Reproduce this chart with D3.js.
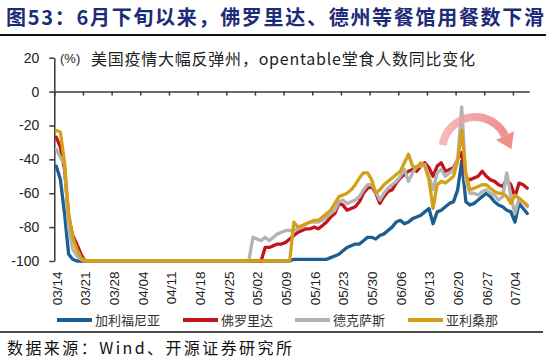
<!DOCTYPE html>
<html><head><meta charset="utf-8">
<script src="https://cdn.jsdelivr.net/npm/d3@7"></script>
<style>body{margin:0;background:#fff}svg{display:block}</style>
</head><body>
<svg id="c" width="550" height="363"></svg>
<script>
// ---------- data ----------
const tickLabels = ["03/14","03/21","03/28","04/04","04/11","04/18","04/25","05/02","05/09","05/16","05/23","05/30","06/06","06/13","06/20","06/27","07/04"];
const dayCount = 116; // 03/14 .. 07/07
const yTicks = [20, 0, -20, -40, -60, -80, -100];
const seriesNames = ["加利福尼亚", "佛罗里达", "德克萨斯", "亚利桑那"];

const california = [
 -44,-52,-72,-96,-99,
 -100,-100,-100,-100,-100,-100,-100,-100,-100,-100,
 -100,-100,-100,-100,-100,-100,-100,-100,-100,-100,
 -100,-100,-100,-100,-100,-100,-100,-100,-100,-100,
 -100,-100,-100,-100,-100,-100,-100,-100,-100,-100,
 -100,-100,-100,-100,-100,-100,-100,-100,-100,-100,
 -100,-100,-100,
 -99,-99,-99,-99,-99,-99,-99,-99,-99,
 -98,-97,-96,-94,-92,-91,-90,-90,-88,-86,
 -86,-87,-85,-84,-82,-80,-77,-76,-78,-77,
 -75,-74,-73,-71,-69,-78,-71,-70,-68,-66,
 -65,-58,-41,-65,-67,-66,-64,-62,-60,-62,
 -65,-67,-68,-70,-71,-77,-66,-69,-72
];
const florida = [
 -27,-33,-46,-74,-85,-90,-96,
 -100,-100,-100,-100,-100,-100,-100,-100,-100,-100,
 -100,-100,-100,-100,-100,-100,-100,-100,-100,-100,
 -100,-100,-100,-100,-100,-100,-100,-100,-100,-100,
 -100,-100,-100,-100,-100,-100,-100,-100,-100,-100,
 -100,-100,-100,-100,
 -92,-92,-91,-90,-90,-89,-87,-85,-83,-82,
 -81,-81,-80,-81,-79,-77,-74,-72,-66,-67,
 -70,-69,-68,-65,-60,-57,-56,-60,-66,-62,
 -59,-58,-54,-51,-49,-47,-46,-47,-44,-42,
 -45,-50,-44,-42,-47,-46,-45,-40,-36,-51,
 -52,-51,-50,-47,-50,-52,-53,-55,-56,-52,
 -55,-62,-54,-55,-57
];
const texas = [
 -34,-39,-43,-80,-93,-97,-99,
 -100,-100,-100,-100,-100,-100,-100,-100,-100,-100,
 -100,-100,-100,-100,-100,-100,-100,-100,-100,-100,
 -100,-100,-100,-100,-100,-100,-100,-100,-100,-100,
 -100,-100,-100,-100,-100,-100,-100,-100,-100,-100,
 -100,
 -86,-87,-88,-86,-88,-86,-84,-83,-82,-82,
 -82,-81,-80,-78,-77,-77,-77,-76,-74,-72,
 -70,-65,-64,-66,-65,-64,-62,-58,-55,-55,
 -59,-64,-60,-57,-55,-53,-50,-46,-53,-48,
 -44,-44,-43,-50,-58,-48,-46,-50,-48,-46,
 -40,-9,-52,-60,-60,-61,-59,-58,-60,-61,
 -64,-62,-48,-62,-72,-63,-65,-68
];
const arizona = [
 -23,-24,-42,-72,-86,-93,-98,
 -100,-100,-100,-100,-100,-100,-100,-100,-100,-100,
 -100,-100,-100,-100,-100,-100,-100,-100,-100,-100,
 -100,-100,-100,-100,-100,-100,-100,-100,-100,-100,
 -100,-100,-100,-100,-100,-100,-100,-100,-100,-100,
 -100,-100,-100,-100,-100,-100,-100,-100,-100,-100,
 -100,
 -77,-80,-79,-78,-77,-76,-76,-74,-72,-70,
 -66,-62,-61,-60,-58,-55,-51,-48,-48,-52,
 -60,-58,-55,-53,-51,-49,-47,-42,-37,-44,
 -45,-42,-44,-52,-69,-55,-53,-54,-52,-50,
 -41,-23,-48,-58,-57,-56,-55,-55,-57,-59,
 -60,-60,-62,-66,-61,-63,-65,-67
];
const seriesValues = [california, florida, texas, arizona];
const seriesColors = ["#1b5e91", "#c3131b", "#b3b3b3", "#d4a017"];

// ---------- chart ----------
const svg = d3.select("#c");
const L = 54.3, R = 529.3, T = 57.7, B = 261;
const x = d3.scaleLinear().domain([0, dayCount]).range([L, R]);
const y = d3.scaleLinear().domain([-100, 20]).range([B, T]);
const axisColor = "#3a3a3a";
const numFont = "'Liberation Sans', Arial, sans-serif";
const cjkFont = "'Noto Sans CJK SC', sans-serif";

// title
svg.append("text").attr("x", 6).attr("y", 25)
  .attr("textLength", 538).attr("lengthAdjust", "spacing")
  .style("font-family", cjkFont).style("font-weight", "bold").style("font-size", "20px")
  .style("fill", "#1e2b78")
  .text("图53：6月下旬以来，佛罗里达、德州等餐馆用餐数下滑");
svg.append("line").attr("x1", 0).attr("x2", 546).attr("y1", 35).attr("y2", 35)
  .attr("stroke", "#111").attr("stroke-width", 2);

// subtitle box (white text box over the top of the plot)
svg.append("rect").attr("x", 50).attr("y", 46).attr("width", 440).attr("height", 18).attr("fill", "#fff");

// y axis
const gy = svg.append("g").attr("transform", `translate(${L},0)`)
  .call(d3.axisLeft(y).tickValues(yTicks).tickSize(5).tickSizeOuter(0).tickPadding(10)
    .tickFormat(d => String(d)));
gy.select(".domain").attr("stroke", axisColor).attr("stroke-width", 1.5);
gy.selectAll(".tick line").attr("stroke", axisColor).attr("stroke-width", 1.5);
gy.selectAll(".tick text").style("font-family", numFont).style("font-size", "14px").attr("fill", "#222");

// x axis line at zero with ticks on category boundaries
const gx = svg.append("g").attr("transform", `translate(0,${y(0)})`)
  .call(d3.axisBottom(x).tickValues(tickLabels.map((_, i) => i * 7)).tickSize(4).tickSizeOuter(0).tickFormat(""));
gx.select(".domain").attr("stroke", axisColor).attr("stroke-width", 1.5);
gx.selectAll(".tick line").attr("stroke", axisColor).attr("stroke-width", 1.5);

// x labels at bottom
const gl = svg.append("g").attr("transform", `translate(0,${B})`)
  .call(d3.axisBottom(x).tickValues(tickLabels.map((_, i) => i * 7 + 0.5)).tickSize(0)
    .tickFormat((d, i) => tickLabels[i]));
gl.select(".domain").remove();
gl.selectAll(".tick text")
  .attr("transform", "rotate(-90)").attr("x", -10.5).attr("y", 0).attr("dy", "0.35em")
  .style("text-anchor", "end").style("font-family", numFont).style("font-size", "13.5px").attr("fill", "#222");

// subtitle text
svg.append("text").attr("x", 60).attr("y", 63).style("font-family", numFont).style("font-size", "13px")
  .attr("fill", "#222").text("(%)");
svg.append("text").attr("x", 91).attr("y", 65).attr("textLength", 384).attr("lengthAdjust", "spacing")
  .style("font-family", cjkFont).style("font-size", "16px")
  .attr("fill", "#222").text("美国疫情大幅反弹州，opentable堂食人数同比变化");

// lines
const line = d3.line().x((d, i) => x(i + 0.5)).y(d => y(d)).curve(d3.curveLinear);
seriesValues.forEach((vals, k) => {
  svg.append("path").datum(vals).attr("d", line).attr("fill", "none")
    .attr("stroke", seriesColors[k]).attr("stroke-width", 3.3)
    .attr("stroke-linejoin", "round").attr("stroke-linecap", "round");
});

// curved arrow annotation
const defs = svg.append("defs");
const grad = defs.append("linearGradient").attr("id", "ag").attr("x1", "0%").attr("x2", "100%");
grad.append("stop").attr("offset", "0%").attr("stop-color", "#f5b0b0");
grad.append("stop").attr("offset", "100%").attr("stop-color", "#ee7b7b");
const cx = x(102.8), cy = y(-34.5);
const rIn = 29, rOut = 37, a0 = -1.42, a1 = 1.12;
const ag = svg.append("g").attr("transform", `translate(${cx},${cy})`).attr("opacity", 0.85);
ag.append("path").attr("d", d3.arc().innerRadius(rIn).outerRadius(rOut).startAngle(a0).endAngle(a1)())
  .attr("fill", "url(#ag)");
const pt = (r, a) => [r * Math.sin(a), -r * Math.cos(a)];
const tan = [Math.cos(a1), Math.sin(a1)];
const b1 = pt(rIn - 6, a1), b2 = pt(rOut + 6, a1), mid = pt((rIn + rOut) / 2, a1);
const tip = [mid[0] + tan[0] * 15, mid[1] + tan[1] * 15];
ag.append("path").attr("d", `M${b1}L${b2}L${tip}Z`).attr("fill", "#ee7b7b");

// legend
const legX = [57, 183, 295, 408];
const legY = 320;
seriesNames.forEach((n, k) => {
  svg.append("line").attr("x1", legX[k]).attr("x2", legX[k] + 35).attr("y1", legY).attr("y2", legY)
    .attr("stroke", seriesColors[k]).attr("stroke-width", 4);
  svg.append("text").attr("x", legX[k] + 38).attr("y", legY + 5)
    .style("font-family", cjkFont).style("font-size", "13px").attr("fill", "#333").text(n);
});

// source
svg.append("line").attr("x1", 0).attr("x2", 543).attr("y1", 332).attr("y2", 332)
  .attr("stroke", "#111").attr("stroke-width", 1.5);
svg.append("text").attr("x", 7).attr("y", 354).attr("textLength", 285).attr("lengthAdjust", "spacing")
  .style("font-family", cjkFont).style("font-size", "16px").attr("fill", "#111")
  .text("数据来源：Wind、开源证券研究所");
</script>
</body></html>
